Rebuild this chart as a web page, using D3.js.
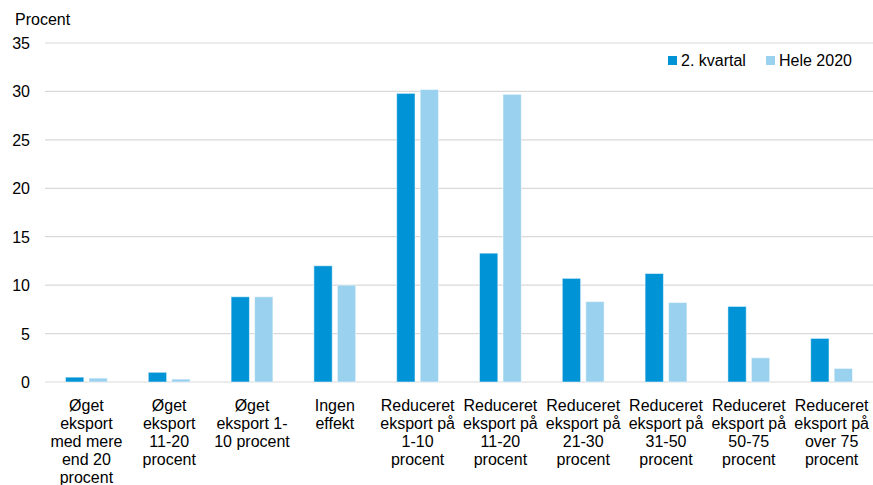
<!DOCTYPE html>
<html>
<head>
<meta charset="utf-8">
<script src="https://cdn.jsdelivr.net/npm/d3@7"></script>
<style>
  body { margin: 0; background: #fff; }
  svg { font-family: "Liberation Sans", Arial, sans-serif; }
</style>
</head>
<body>
<div id="chart"></div>
<script>
const categories = [
  ['Øget', 'eksport', 'med mere', 'end 20', 'procent'],
  ['Øget', 'eksport', '11-20', 'procent'],
  ['Øget', 'eksport 1-', '10 procent'],
  ['Ingen', 'effekt'],
  ['Reduceret', 'eksport på', '1-10', 'procent'],
  ['Reduceret', 'eksport på', '11-20', 'procent'],
  ['Reduceret', 'eksport på', '21-30', 'procent'],
  ['Reduceret', 'eksport på', '31-50', 'procent'],
  ['Reduceret', 'eksport på', '50-75', 'procent'],
  ['Reduceret', 'eksport på', 'over 75', 'procent']
];
const seriesNames = ['2. kvartal', 'Hele 2020'];
const kvartal = [0.5, 1.0, 8.8, 12.0, 29.8, 13.3, 10.7, 11.2, 7.8, 4.5];
const hele2020 = [0.4, 0.3, 8.8, 10.0, 30.2, 29.7, 8.3, 8.2, 2.5, 1.4];
const yTicks = [0, 5, 10, 15, 20, 25, 30, 35];
const colors = ['#0093d6', '#9ad1ee'];

const width = 873;
const height = 485;
const margin = { top: 43, right: 0, bottom: 103, left: 45 };
const fontSize = 16;

const svg = d3.select('#chart').
  append('svg').
  attr('width', width).
  attr('height', height);

const x = d3.scaleBand().
  domain(d3.range(categories.length)).
  range([margin.left, width - margin.right]).
  paddingInner(0).
  paddingOuter(0);

const inner = d3.scaleBand().
  domain([0, 1]).
  range([20.5, x.bandwidth() - 20.5]).
  paddingInner(0.22);

const y = d3.scaleLinear().
  domain([0, 35]).
  range([height - margin.bottom, margin.top]);

// gridlines
svg.append('g').
  selectAll('line').
  data(yTicks).
  enter().
  append('line').
  attr('x1', margin.left).
  attr('x2', width - margin.right).
  attr('y1', d => y(d)).
  attr('y2', d => y(d)).
  attr('stroke', '#d9d9d9').
  attr('stroke-width', 1.2);

// y axis labels
svg.append('g').
  selectAll('text').
  data(yTicks).
  enter().
  append('text').
  attr('x', 30).
  attr('y', d => y(d) + 6).
  attr('text-anchor', 'end').
  attr('font-size', fontSize).
  attr('fill', '#000').
  text(d => d);

svg.append('text').
  attr('x', 15).
  attr('y', 25).
  attr('font-size', fontSize).
  text('Procent');

// bars
const series = [kvartal, hele2020];
series.forEach(function (vals, s) {
  svg.append('g').
    selectAll('rect').
    data(vals).
    enter().
    append('rect').
    attr('x', (d, i) => x(i) + inner(s)).
    attr('y', d => y(d)).
    attr('width', inner.bandwidth()).
    attr('height', d => y(0) - y(d)).
    attr('fill', colors[s]).
    attr('stroke', '#ffffff').
    attr('stroke-opacity', 0.5).
    attr('stroke-width', 1);
});

// category labels
const labels = svg.append('g').
  selectAll('text').
  data(categories).
  enter().
  append('text').
  attr('text-anchor', 'middle').
  attr('font-size', fontSize).
  attr('fill', '#000');

labels.selectAll('tspan').
  data((d, i) => d.map(line => ({ line: line, i: i }))).
  enter().
  append('tspan').
  attr('x', d => x(d.i) + x.bandwidth() / 2).
  attr('y', (d, j) => 411 + j * 18).
  text(d => d.line);

// legend
const legendX = [668, 766];
const legend = svg.append('g');
seriesNames.forEach(function (name, s) {
  legend.append('rect').
    attr('x', legendX[s]).
    attr('y', 56).
    attr('width', 9).
    attr('height', 9).
    attr('fill', colors[s]);
  legend.append('text').
    attr('x', legendX[s] + 13).
    attr('y', 66).
    attr('font-size', fontSize).
    text(name);
});
</script>
</body>
</html>
